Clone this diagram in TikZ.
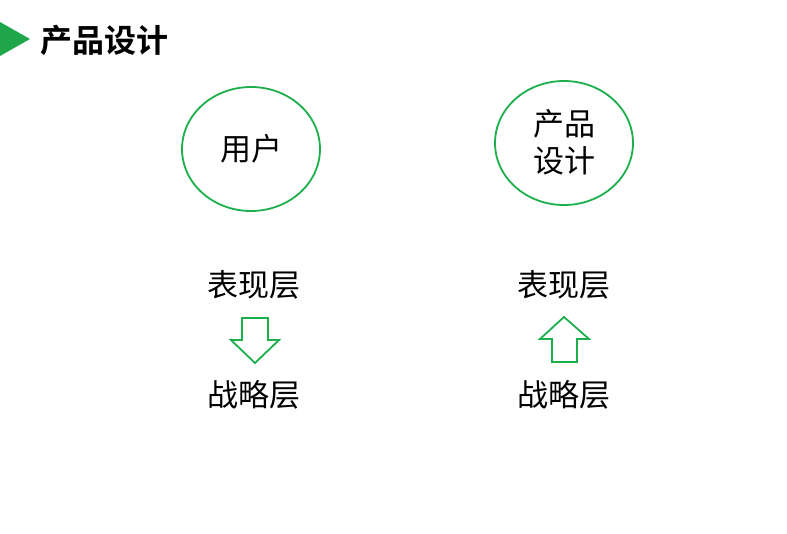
\documentclass[tikz,border=0pt]{standalone}
\usepackage{fontspec}
\usetikzlibrary{shapes.geometric}
\newfontfamily\cjk{Noto Sans CJK SC}
\newfontfamily\cjkb{Noto Sans CJK SC Bold}
\definecolor{pgreen}{HTML}{1DAF4C}
\definecolor{tgreen}{HTML}{1FA64A}
\begin{document}
\begin{tikzpicture}[x=1pt,y=-1pt,
  circ/.style={draw=pgreen,line width=1.8pt,ellipse,minimum width=138pt,minimum height=124pt,inner sep=0pt},
  lbl/.style={font=\cjk\fontsize{31}{37}\selectfont,inner sep=0pt,align=center},
  arr/.style={draw=pgreen,line width=1.8pt,fill=white,line join=miter}]
\useasboundingbox (0,0) rectangle (787,534);
\fill[white] (0,0) rectangle (787,534);
\fill[tgreen] (0,22) -- (30,39) -- (0,56) -- cycle;
\node[font=\cjkb\fontsize{32}{38}\selectfont,anchor=west,inner sep=0pt] (title) at (40,40) {产品设计};
\node[circ] (user) at (251,149) {};
\node[lbl] (usert) at (251,149) {用户};
\node[circ] (prod) at (564,143) {};
\node[lbl,font=\cjk\fontsize{31}{37}\selectfont] (prodt) at (564,142) {产品\\设计};
\node[lbl] (l1) at (254,285) {表现层};
\node[lbl] (l2) at (254,395) {战略层};
\node[lbl] (r1) at (564,285) {表现层};
\node[lbl] (r2) at (564,395) {战略层};
\draw[arr] (242,318) -- (268,318) -- (268,340) -- (279,340) -- (255,363) -- (231,340) -- (242,340) -- cycle;
\draw[arr] (552,362) -- (577,362) -- (577,339) -- (589,339) -- (564,317) -- (540,339) -- (552,339) -- cycle;
\end{tikzpicture}
\end{document}
